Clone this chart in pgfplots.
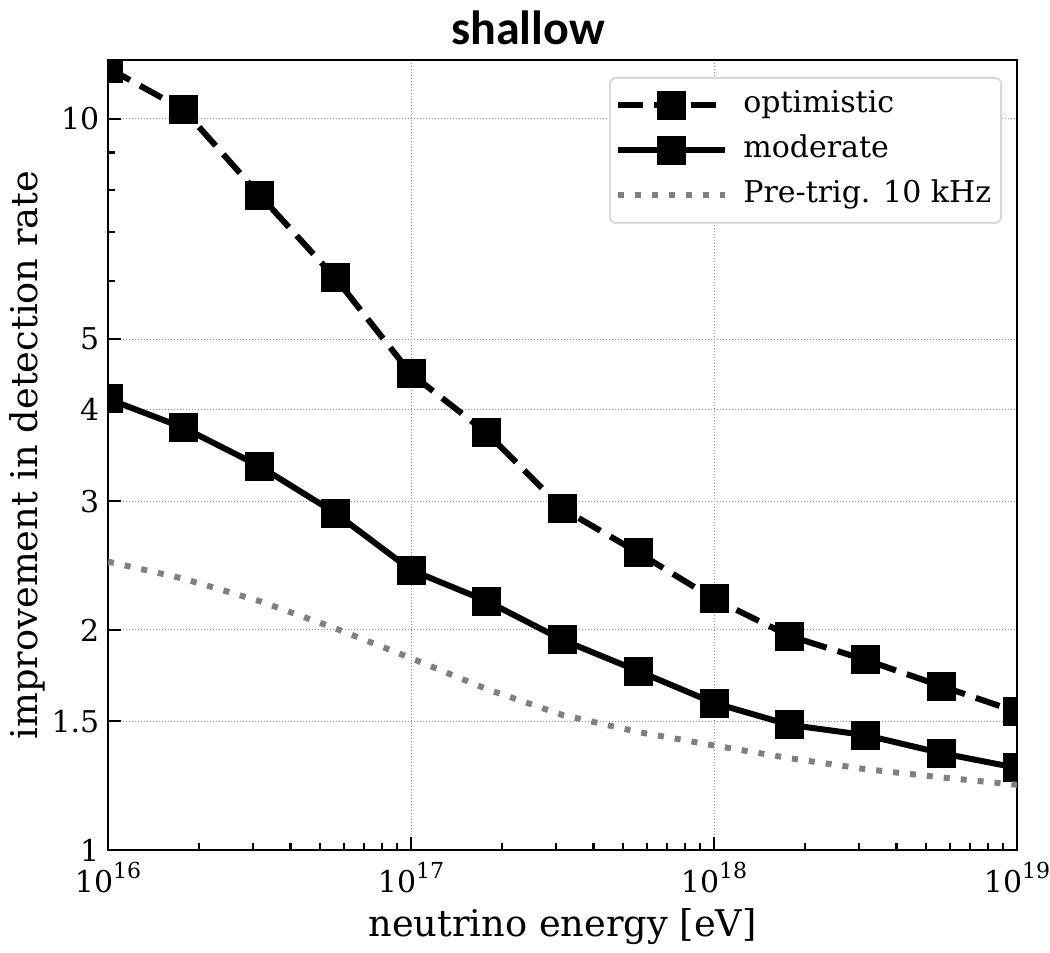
\documentclass[border=0pt]{standalone}
\usepackage{pgfplots}
\pgfplotsset{compat=1.18}
\usepackage{fontspec}
\setmainfont{DejaVu Serif}
\newfontfamily\titlefont{Carlito}
\begin{document}
\begin{tikzpicture}
\begin{axis}[
  scale only axis,
  width=363.6pt, height=316pt,
  xmode=log, ymode=log,
  xmin=1e16, xmax=1e19, ymin=1, ymax=12.04,
  axis line style={line width=1pt},
  tick align=inside, tick pos=left,
  xtick={1e16,1e17,1e18,1e19},
  xticklabels={10\raisebox{0.45em}{\fontsize{8.8}{10}\selectfont 16},10\raisebox{0.45em}{\fontsize{8.8}{10}\selectfont 17},10\raisebox{0.45em}{\fontsize{8.8}{10}\selectfont 18},10\raisebox{0.45em}{\fontsize{8.8}{10}\selectfont 19}},
  xticklabel style={yshift=-1.5pt},
  minor xtick={2e16,3e16,4e16,5e16,6e16,7e16,8e16,9e16,2e17,3e17,4e17,5e17,6e17,7e17,8e17,9e17,2e18,3e18,4e18,5e18,6e18,7e18,8e18,9e18},
  ytick={1,1.5,2,3,4,5,10},
  yticklabels={1,1.5,2,3,4,5,10},
  minor ytick={6,7,8,9},
  major tick length=5.2pt, minor tick length=2.8pt,
  every tick/.style={black, line width=0.9pt},
  ticklabel style={font=\fontsize{12}{14}\selectfont},
  grid=major,
  major grid style={black!45, line width=0.4pt, dash pattern=on 0.5pt off 0.7pt},
  xlabel={neutrino energy [eV]},
  ylabel={improvement in detection rate},
  label style={font=\fontsize{14.7}{17}\selectfont},
  xlabel style={at={(axis description cs:0.5,0)}, anchor=base, yshift=-34.4pt},
  ylabel style={at={(axis description cs:-0.0781,0.5)}, anchor=base},
  title={shallow},
  title style={font=\titlefont\bfseries\fontsize{19.2}{22}\selectfont, at={(rel axis cs:0.462,1)}, anchor=base},
  clip marker paths=true,
  legend style={at={(rel axis cs:0.9835,0.9785)}, anchor=north east, draw=black!15, line width=0.8pt, rounded corners=2.5pt, font=\fontsize{12}{14}\selectfont, inner xsep=2pt, inner ysep=2pt, nodes={inner ysep=3pt, text height=9pt, text depth=3pt}, row sep=0pt, /tikz/every odd column/.append style={column sep=4pt}},
  legend cell align=left,
  legend image code/.code={\draw[mark repeat=2,mark phase=2,#1] plot coordinates {(0pt,0pt) (21.5pt,0pt) (43pt,0pt)};},
]
\addplot[black, line width=2.4pt, dash pattern=on 10pt off 4.6pt, mark=square*, mark size=4.6pt, mark options={solid}] coordinates {
(1e16,11.74) (1.778e16,10.29) (3.162e16,7.87) (5.623e16,6.06) (1e17,4.48) (1.778e17,3.72) (3.162e17,2.93) (5.623e17,2.55) (1e18,2.205) (1.778e18,1.962) (3.162e18,1.82) (5.623e18,1.676) (1e19,1.545)};
\addlegendentry{optimistic}
\addplot[black, line width=2.4pt, mark=square*, mark size=4.6pt, mark options={solid}] coordinates {
(1e16,4.14) (1.778e16,3.78) (3.162e16,3.35) (5.623e16,2.89) (1e17,2.415) (1.778e17,2.19) (3.162e17,1.938) (5.623e17,1.757) (1e18,1.589) (1.778e18,1.483) (3.162e18,1.436) (5.623e18,1.357) (1e19,1.295)};
\addlegendentry{moderate}
\addplot[black!50, line width=2.4pt, dash pattern=on 2.4pt off 4.4pt, no marks] coordinates {
(1e16,2.48) (1.778e16,2.35) (3.162e16,2.19) (5.623e16,2.01) (1e17,1.83) (1.778e17,1.66) (3.162e17,1.53) (5.623e17,1.45) (1e18,1.39) (1.778e18,1.335) (3.162e18,1.29) (5.623e18,1.257) (1e19,1.228)};
\addlegendentry{Pre-trig. 10 kHz}
\end{axis}
\pgfresetboundingbox
\path (-43.2pt,-40.8pt) rectangle (376.8pt,340pt);
\end{tikzpicture}
\end{document}
